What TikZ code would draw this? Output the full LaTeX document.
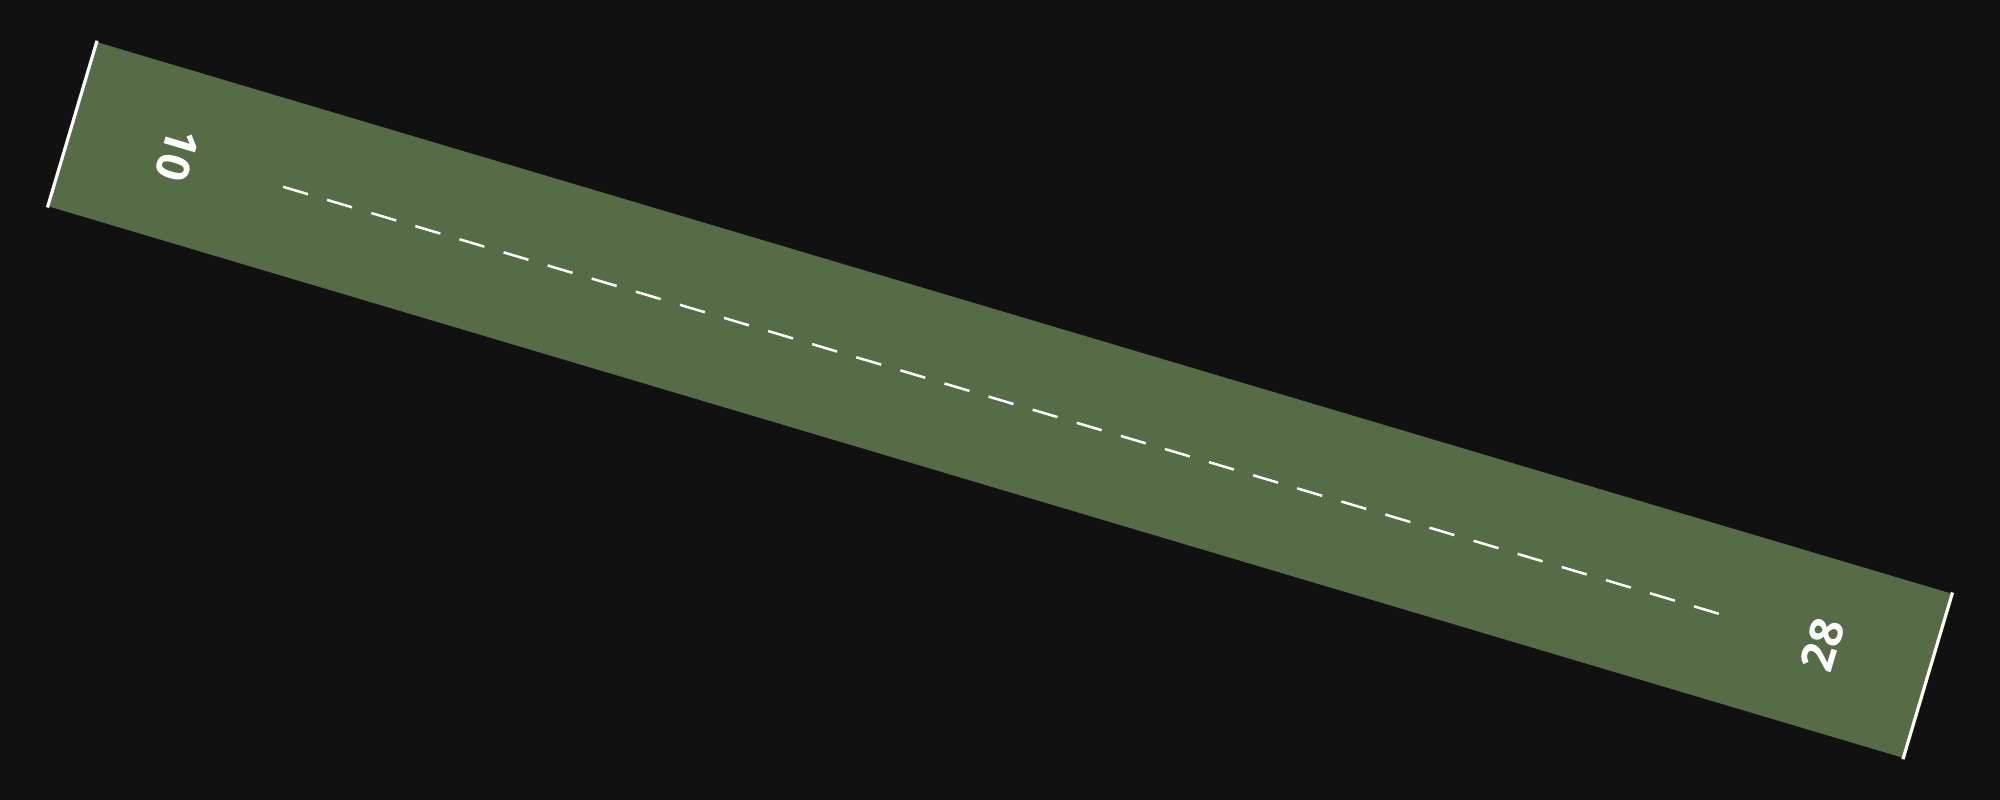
\documentclass[tikz,border=0pt]{standalone}
\usepackage{fontspec}
\newfontfamily\rwyfont{Open Sans}
\usepackage{tikz}
\usepackage{xcolor}
\definecolor{bgdark}{HTML}{111111}
\definecolor{rwygreen}{HTML}{566C46}
\tikzset{
	rwybody/.style={fill=rwygreen, draw=none},
	rwyedge/.style={draw=white, line width=0.32mm},
	rwycenter/.style={draw=white, line width=0.25mm, dash pattern=on 2.6mm off 2mm},
	rwynum/.style={text=white, inner sep=0pt, font=\rwyfont\bfseries\fontsize{13}{15.6}\selectfont}
}
\begin{document}
\begin{tikzpicture}[x=0.1mm, y=-0.1mm]
			\fill[bgdark] (0,0) rectangle (2000,800);
			\useasboundingbox (0,0) rectangle (2000,800);
			\begin{scope}[shift={(1000,400)}, rotate=-16.56]
				\fill[rwybody] (-967.5,-85.6) rectangle (967.5,85.6);
				\coordinate (thr1a) at (-968,-87);
				\coordinate (thr1b) at (-968,87);
				\coordinate (thr2a) at (968,-87);
				\coordinate (thr2b) at (968,87);
				\coordinate (cl1) at (-748,0);
				\coordinate (cl2) at (750,0);
				\draw[rwyedge] (thr1a) -- (thr1b);
				\draw[rwyedge] (thr2a) -- (thr2b);
				\draw[rwycenter] (cl1) -- (cl2);
				\node[rwynum, rotate=-106.56] (rwy10) at (-858,0) {10};
				\node[rwynum, rotate=73.44] (rwy28) at (858,0) {28};
			\end{scope}
		\end{tikzpicture}
\end{document}
